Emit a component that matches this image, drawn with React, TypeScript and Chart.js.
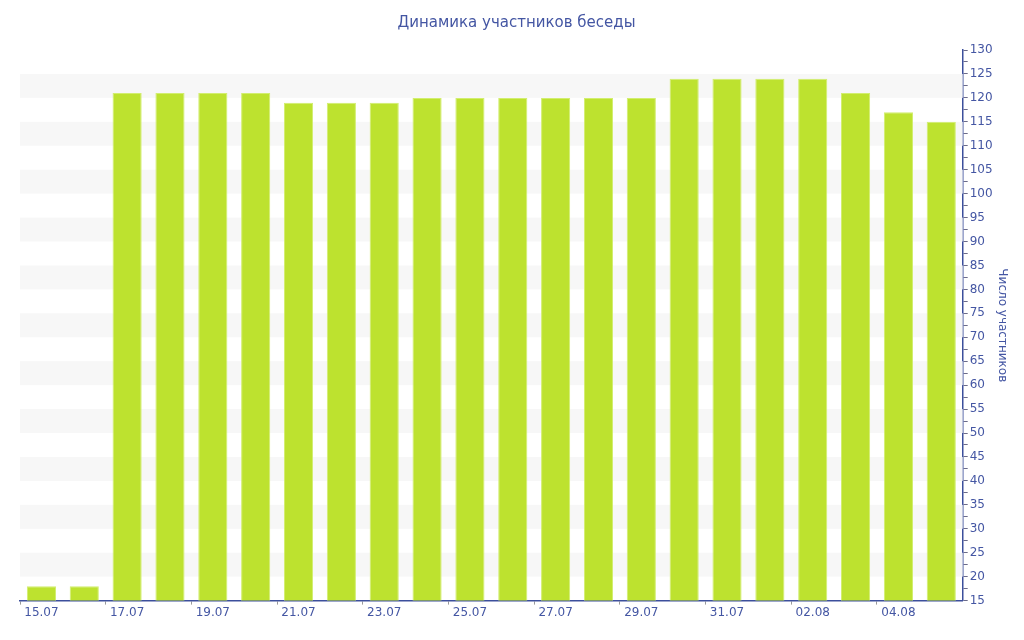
import { useEffect, useRef } from "react";
import { Chart, registerables } from "chart.js";

Chart.register(...registerables);

const dates = [
  "15.07", "16.07", "17.07", "18.07", "19.07", "20.07", "21.07", "22.07",
  "23.07", "24.07", "25.07", "26.07", "27.07", "28.07", "29.07", "30.07",
  "31.07", "01.08", "02.08", "03.08", "04.08", "05.08",
];
const members = [
  18, 18, 121, 121, 121, 121, 119, 119, 119, 120, 120, 120, 120, 120, 120,
  124, 124, 124, 124, 121, 117, 115,
];

const AXIS = "#3c4f9c";
const TEXT = "#4456a3";
const FONT = "Verdana, 'DejaVu Sans', sans-serif";

// grey stripes every other 5-step band (20-25, 30-35 ... 120-125)
const stripes = {
  id: "stripes",
  beforeDatasetsDraw(chart: Chart) {
    const { ctx, chartArea } = chart;
    const y = chart.scales.y;
    ctx.save();
    ctx.fillStyle = "#f7f7f7";
    for (let v = 20; v < y.max; v += 10) {
      const top = y.getPixelForValue(v + 5);
      const bottom = y.getPixelForValue(v);
      ctx.fillRect(chartArea.left, top, chartArea.right - chartArea.left, bottom - top);
    }
    ctx.restore();
  },
};

export default function App() {
  const canvasRef = useRef<HTMLCanvasElement>(null);
  const chartRef = useRef<Chart | null>(null);

  useEffect(() => {
    if (!canvasRef.current) return;
    if (chartRef.current) chartRef.current.destroy();

    chartRef.current = new Chart(canvasRef.current, {
      type: "bar",
      data: {
        labels: dates,
        datasets: [
          {
            data: members,
            backgroundColor: "#bde22f",
            borderColor: "#d2ee6e",
            borderWidth: 1,
            barPercentage: 0.68,
            categoryPercentage: 1,
          },
        ],
      },
      plugins: [stripes],
      options: {
        responsive: true,
        maintainAspectRatio: false,
        animation: false,
        layout: { padding: { left: 20, right: 11, top: 4, bottom: 19 } },
        plugins: {
          legend: { display: false },
          tooltip: { enabled: false },
          title: {
            display: true,
            text: "Динамика участников беседы",
            color: TEXT,
            font: { family: FONT, size: 15, weight: "normal" },
            padding: { top: 10, bottom: 18 },
          },
        },
        scales: {
          x: {
            grid: {
              drawOnChartArea: false,
              tickLength: 4,
              color: (c) => (c.index % 2 === 0 ? "#999999" : "transparent"),
            },
            border: { color: AXIS, width: 1.5 },
            ticks: {
              autoSkip: false,
              maxRotation: 0,
              color: TEXT,
              font: { family: FONT, size: 12 },
              padding: 1,
              callback: (_v, i) => (i % 2 === 0 ? dates[i] : ""),
            },
          },
          y: {
            position: "right",
            min: 15,
            max: 130,
            grid: {
              drawOnChartArea: false,
              tickLength: 5,
              color: "#6b6b8a",
            },
            border: { color: AXIS, width: 1.5 },
            ticks: {
              stepSize: 2.5,
              autoSkip: false,
              color: TEXT,
              font: { family: FONT, size: 12 },
              padding: 2,
              callback: (v) => (Number(v) % 5 === 0 ? String(v) : ""),
            },
            title: {
              display: true,
              text: "Число участников",
              color: TEXT,
              font: { family: FONT, size: 12 },
              padding: { top: 4, bottom: 0 },
            },
          },
        },
      },
    });

    return () => {
      if (chartRef.current) {
        chartRef.current.destroy();
        chartRef.current = null;
      }
    };
  }, []);

  return (
    <div style={{ position: "fixed", inset: 0, background: "#ffffff" }}>
      <canvas ref={canvasRef} />
    </div>
  );
}
